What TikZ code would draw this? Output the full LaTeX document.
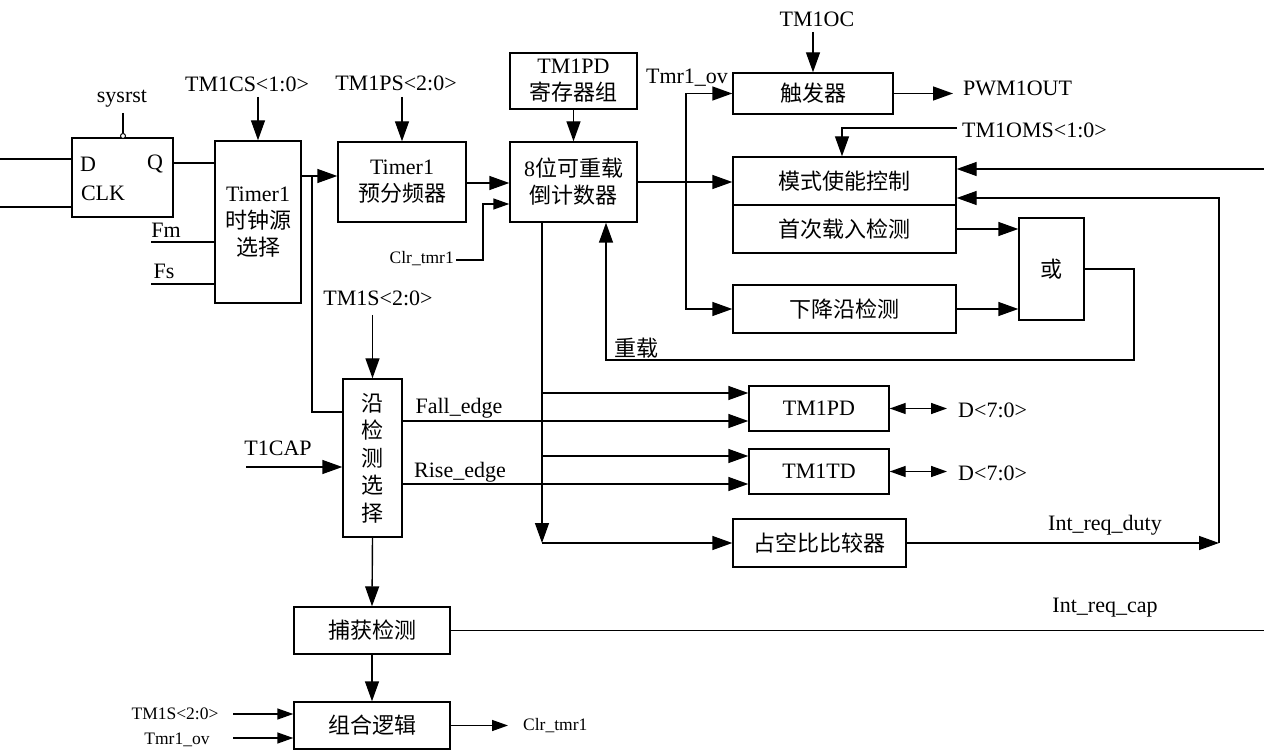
\documentclass[tikz,border=0pt]{standalone}
\usepackage{fontspec}
\setmainfont{Liberation Serif}
\newfontfamily\cjk{Noto Sans CJK SC}
\usetikzlibrary{arrows.meta}
\tikzset{
  txt/.style={font=\fontsize{22}{27}\selectfont, inner sep=0pt},
  smalltxt/.style={font=\fontsize{17.5}{21}\selectfont, inner sep=0pt},
  box/.style={draw, line width=1.4pt, inner sep=0pt, align=center, font=\fontsize{22}{27}\selectfont},
  wire/.style={line width=1.4pt},
  arr/.style={wire, -{Triangle[length=20pt,width=14pt]}},
  sarr/.style={wire, -{Triangle[length=16pt,width=11pt]}},
  darr/.style={wire, {Triangle[length=16pt,width=11pt]}-{Triangle[length=16pt,width=11pt]}},
}
\begin{document}
\begin{tikzpicture}[x=1pt,y=-1pt]
\useasboundingbox (0,0) rectangle (1264,751);
% ---------- boxes ----------
\node[box, minimum width=101, minimum height=79] (dff) at (122.5,177.5) {};
\node[txt] (dffD) at (88,164) {D};
\node[txt] (dffQ) at (155,164) {Q};
\node[txt] (dffC) at (103,193) {CLK};
\node[box, minimum width=86, minimum height=162] (clksel) at (258,222) {Timer1\\{\cjk 时钟源}\\{\cjk 选择}};
\node[box, minimum width=128, minimum height=80] (pre) at (402,182) {Timer1\\{\cjk 预分频器}};
\node[box, minimum width=127, minimum height=80] (cnt) at (573.5,182) {8{\cjk 位可重载}\\{\cjk 倒计数器}};
\node[box, minimum width=127, minimum height=56] (pdreg) at (573.5,81) {TM1PD\\{\cjk 寄存器组}};
\node[box, minimum width=160, minimum height=41, font=\fontsize{22}{27}\selectfont\cjk] (trig) at (813,93.5) {触发器};
\node[box, minimum width=223, minimum height=48, font=\fontsize{22}{27}\selectfont\cjk] (mode) at (844.5,181) {模式使能控制};
\node[box, minimum width=223, minimum height=48, font=\fontsize{22}{27}\selectfont\cjk] (first) at (844.5,229) {首次载入检测};
\node[box, minimum width=223, minimum height=48, font=\fontsize{22}{27}\selectfont\cjk] (fall) at (844.5,309) {下降沿检测};
\node[box, minimum width=65, minimum height=102, font=\fontsize{22}{27}\selectfont\cjk] (orb) at (1051.5,269) {或};
\node[box, minimum width=59, minimum height=158, font=\fontsize{22}{27.5}\selectfont\cjk] (edge) at (372.5,458) {沿\\检\\测\\选\\择};
\node[box, minimum width=140, minimum height=45] (tpd) at (819,408.5) {TM1PD};
\node[box, minimum width=140, minimum height=45] (ttd) at (819,471.5) {TM1TD};
\node[box, minimum width=173, minimum height=48, font=\fontsize{22}{27}\selectfont\cjk] (duty) at (819.5,543) {占空比比较器};
\node[box, minimum width=156, minimum height=47, font=\fontsize{22}{27}\selectfont\cjk] (cap) at (372,630.5) {捕获检测};
\node[box, minimum width=156, minimum height=47, font=\fontsize{22}{27}\selectfont\cjk] (comb) at (372,725.5) {组合逻辑};
% ---------- labels ----------
\node[txt] (sysrst) at (122,99) {sysrst};
\node[txt] (tmcs) at (247,84) {TM1CS<1:0>};
\node[txt] (fm) at (166,230) {Fm};
\node[txt] (fs) at (164,271) {Fs};
\node[txt] (tmps) at (396,83) {TM1PS<2:0>};
\node[smalltxt, anchor=east] (clr1) at (454,259) {Clr\_tmr1};
\node[txt] (tmoc) at (817,19) {TM1OC};
\node[txt] (ov1) at (687,78) {Tmr1\_ov};
\node[txt, anchor=west] (pwm) at (963,88) {PWM1OUT};
\node[txt, anchor=west] (tmoms) at (962,130) {TM1OMS<1:0>};
\node[txt, font=\fontsize{22}{27}\selectfont\cjk] (reload) at (636,348) {重载};
\node[txt] (tms) at (378,298) {TM1S<2:0>};
\node[txt] (t1cap) at (278,448) {T1CAP};
\node[txt] (falle) at (459,408) {Fall\_edge};
\node[txt] (risee) at (460,472) {Rise\_edge};
\node[txt, anchor=west] (dpd) at (958,410) {D<7:0>};
\node[txt, anchor=west] (dtd) at (958,473) {D<7:0>};
\node[txt] (irduty) at (1105,525) {Int\_req\_duty};
\node[txt] (ircap) at (1105,608) {Int\_req\_cap};
\node[smalltxt] (tms2) at (175,714) {TM1S<2:0>};
\node[smalltxt] (ov2) at (177,740) {Tmr1\_ov};
\node[smalltxt, anchor=west] (clr2) at (523,726) {Clr\_tmr1};
% ---------- helper coordinates ----------
\coordinate (inD) at (0,159);
\coordinate (inC) at (0,207);
\coordinate (qy) at (0,163);
\coordinate (fmin) at (151,242);
\coordinate (fsin) at (151,284);
\coordinate (rstA) at (123,113);
\coordinate (rstB) at (123,133.5);
\coordinate (rstC) at (123,136);
\coordinate (y97) at (0,97);
\coordinate (y32) at (0,32);
\coordinate (y176) at (0,176);
\coordinate (br1) at (312,176);
\coordinate (br1b) at (312,412);
\coordinate (y183) at (0,183);
\coordinate (clrA) at (456,260);
\coordinate (clrB) at (483,260);
\coordinate (clrC) at (483,204);
\coordinate (y182) at (0,182);
\coordinate (pwmend) at (953,93.5);
\coordinate (ovtop) at (686,93.5);
\coordinate (ovbot) at (686,309);
\coordinate (omsA) at (957,128);
\coordinate (omsB) at (842,128);
\coordinate (rin) at (1264,169);
\coordinate (dutyc) at (1219,543);
\coordinate (dutyt) at (1219,198);
\coordinate (y229) at (0,229);
\coordinate (y309) at (0,309);
\coordinate (orA) at (1134,269);
\coordinate (orB) at (1134,360);
\coordinate (orC) at (606,360);
\coordinate (vA) at (542,222);
\coordinate (vB) at (542,543);
\coordinate (v393) at (542,393);
\coordinate (v456) at (542,456);
\coordinate (y421) at (0,421);
\coordinate (y484) at (0,484);
\coordinate (dpdend) at (947,408.5);
\coordinate (dtdend) at (947,471.5);
\coordinate (tmsA) at (372.5,315);
\coordinate (t1A) at (246,467);
\coordinate (capend) at (1264,630.5);
\coordinate (tms2A) at (233,714);
\coordinate (ov2A) at (233,738);
\coordinate (clr2end) at (508,725.5);
% ---------- connectors ----------
\draw[wire] (inD) -- (inD -| dff.west);
\draw[wire] (inC) -- (inC -| dff.west);
\draw[wire] (rstA) -- (rstB);
\draw[line width=1pt, fill=white] (rstC) circle (2.5);
\draw[wire] (dff.east |- qy) -- (clksel.west |- qy);
\draw[wire] (fmin) -- (fmin -| clksel.west);
\draw[wire] (fsin) -- (fsin -| clksel.west);
\draw[arr] (clksel.north |- y97) -- (clksel.north);
\draw[arr] (clksel.east |- y176) -- (pre.west |- y176);
\draw[wire] (br1) -- (br1b) -- (edge.west |- br1b);
\draw[arr] (pre.north |- y97) -- (pre.north);
\draw[arr] (pre.east |- y183) -- (cnt.west |- y183);
\draw[sarr] (clrA) -- (clrB) -- (clrC) -- (cnt.west |- clrC);
\draw[arr] (pdreg.south) -- (cnt.north);
\draw[arr] (cnt.east |- y182) -- (mode.west |- y182);
\draw[arr] (trig.north |- y32) -- (trig.north);
\draw[arr] (trig.east) -- (pwmend);
\draw[arr] (ovbot) -- (ovtop) -- (trig.west);
\draw[arr] (ovtop) -- (ovbot) -- (fall.west |- ovbot);
\draw[arr] (omsA) -- (omsB) -- (omsB |- mode.north);
\draw[arr] (rin) -- (mode.east |- rin);
\draw[arr] (duty.east) -- (dutyc);
\draw[arr] (dutyc) -- (dutyt) -- (mode.east |- dutyt);
\draw[arr] (first.east |- y229) -- (orb.west |- y229);
\draw[arr] (fall.east |- y309) -- (orb.west |- y309);
\draw[arr] (orb.east) -- (orA) -- (orB) -- (orC) -- (orC |- cnt.south);
\draw[arr] (vA) -- (vB);
\draw[arr] (vB) -- (duty.west);
\draw[arr] (v393) -- (tpd.west |- v393);
\draw[arr] (v456) -- (ttd.west |- v456);
\draw[arr] (edge.east |- y421) -- (tpd.west |- y421);
\draw[arr] (edge.east |- y484) -- (ttd.west |- y484);
\draw[darr] (tpd.east) -- (dpdend);
\draw[darr] (ttd.east) -- (dtdend);
\draw[arr] (tmsA) -- (edge.north);
\draw[arr] (t1A) -- (edge.west |- t1A);
\draw[arr] (edge.south) -- (cap.north);
\draw[wire] (cap.east) -- (capend);
\draw[arr] (cap.south) -- (comb.north);
\draw[sarr] (tms2A) -- (comb.west |- tms2A);
\draw[sarr] (ov2A) -- (comb.west |- ov2A);
\draw[sarr] (comb.east) -- (clr2end);
\end{tikzpicture}
\end{document}
